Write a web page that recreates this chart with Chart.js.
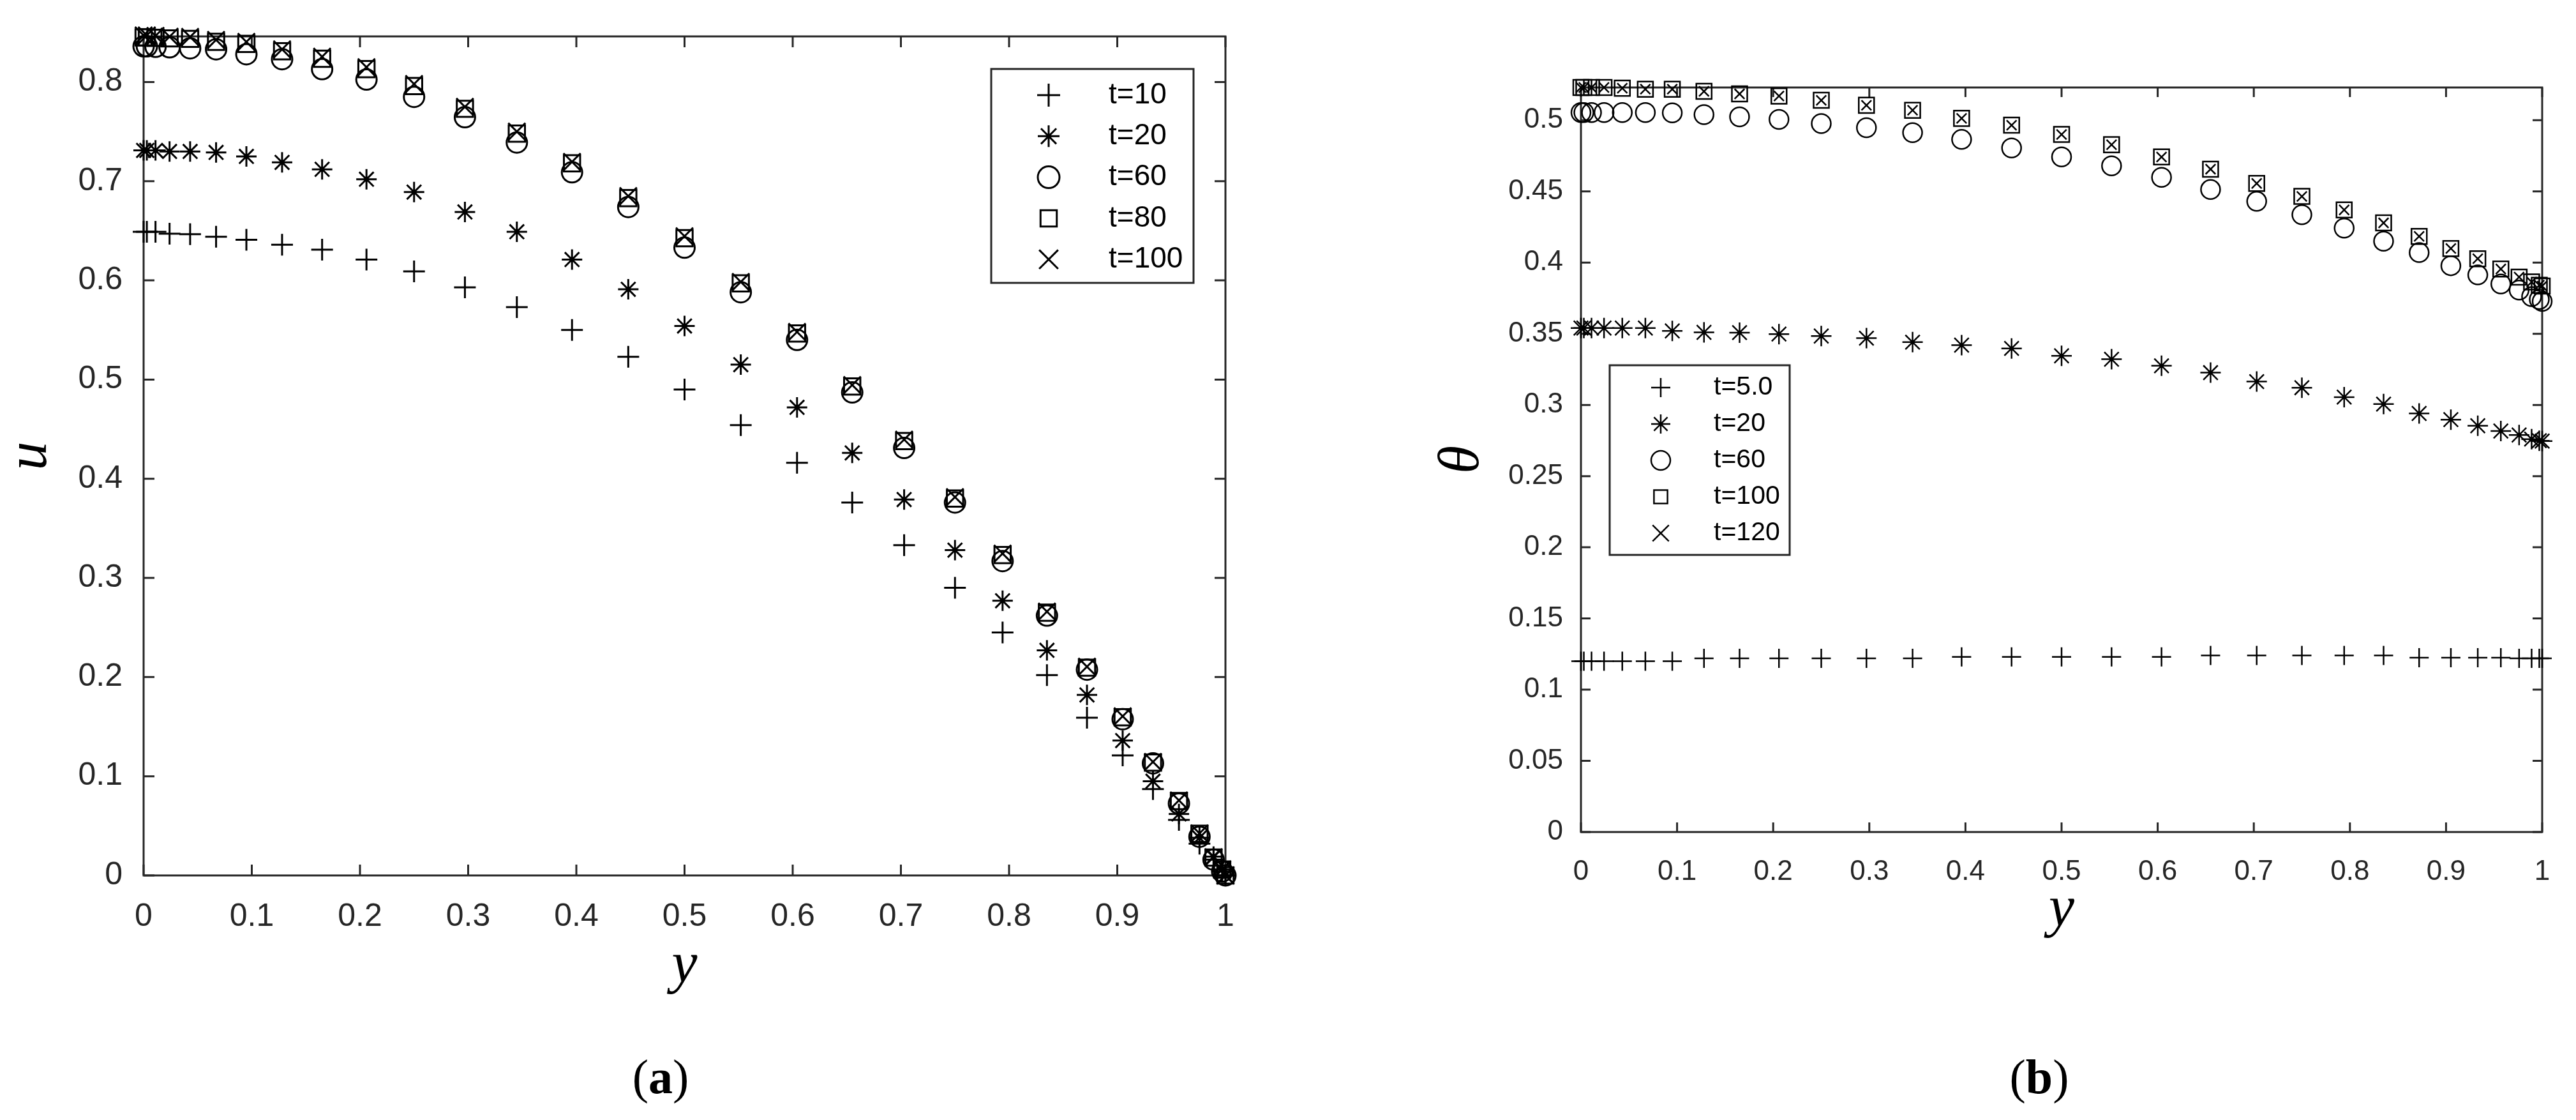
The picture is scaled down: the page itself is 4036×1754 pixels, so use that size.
<!DOCTYPE html>
<html>
<head>
<meta charset="utf-8">
<title>u and theta profiles</title>
<script src="https://cdn.jsdelivr.net/npm/chart.js@4.4.1/dist/chart.umd.min.js"></script>
<style>
  html, body { margin: 0; padding: 0; background: #fff; }
  body { width: 4036px; height: 1754px; position: relative; overflow: hidden; }
  .panel { position: absolute; top: 0; width: 2000px; height: 1754px; }
  .caption {
    position: absolute;
    font-family: 'Liberation Serif', 'DejaVu Serif', serif;
    font-size: 76px;
    color: #000;
    transform: translate(-50%, -50%);
    white-space: nowrap;
  }
</style>
</head>
<body>
<div class="panel" style="left:0"><canvas id="chartU" width="2000" height="1754"></canvas></div>
<div class="panel" style="left:2036px"><canvas id="chartTheta" width="2000" height="1754"></canvas></div>
<div class="caption" style="left:1035px; top:1686px">(<b>a</b>)</div>
<div class="caption" style="left:3195px; top:1686px">(<b>b</b>)</div>
<script>
// grid points across the channel (same for every curve)
const yNodes = [0, 0.003, 0.011, 0.024, 0.043, 0.067, 0.095, 0.128, 0.165, 0.206, 0.25, 0.297, 0.345, 0.396, 0.448,
  0.5, 0.552, 0.604, 0.655, 0.703, 0.75, 0.794, 0.835, 0.872, 0.905, 0.933, 0.957, 0.976, 0.989, 0.997, 1];

// (a) velocity u
const uT10 = [0.649, 0.649, 0.649, 0.647, 0.6465, 0.644, 0.641, 0.636, 0.631, 0.621, 0.609, 0.593, 0.573, 0.550, 0.523,
  0.490, 0.454, 0.416, 0.376, 0.333, 0.290, 0.245, 0.202, 0.159, 0.121, 0.087, 0.056, 0.032, 0.016, 0.004, 0];
const uT20 = [0.731, 0.731, 0.731, 0.730, 0.730, 0.729, 0.725, 0.719, 0.712, 0.702, 0.689, 0.669, 0.649, 0.621, 0.591,
  0.554, 0.515, 0.472, 0.426, 0.379, 0.328, 0.277, 0.227, 0.182, 0.136, 0.095, 0.062, 0.038, 0.019, 0.006, 0];
const uT60 = [0.836, 0.836, 0.8355, 0.835, 0.834, 0.833, 0.828, 0.823, 0.813, 0.8025, 0.785, 0.7645, 0.739, 0.709, 0.674,
  0.633, 0.588, 0.540, 0.487, 0.431, 0.376, 0.317, 0.262, 0.2075, 0.1575, 0.113, 0.0725, 0.039, 0.016, 0.004, 0];
const uT80 = [0.845, 0.845, 0.8445, 0.844, 0.8435, 0.8405, 0.8385, 0.831, 0.8235, 0.813, 0.796, 0.773, 0.748, 0.718, 0.683,
  0.6425, 0.597, 0.5465, 0.493, 0.438, 0.380, 0.323, 0.265, 0.2095, 0.1595, 0.1138, 0.075, 0.042, 0.018, 0.006, 0];
const uT100 = [0.847, 0.847, 0.8465, 0.8457, 0.8455, 0.8425, 0.8405, 0.833, 0.8255, 0.815, 0.798, 0.775, 0.750, 0.7195, 0.685,
  0.6445, 0.5985, 0.548, 0.4945, 0.4395, 0.3815, 0.3245, 0.266, 0.2105, 0.1605, 0.1145, 0.0757, 0.0424, 0.0184, 0.006, 0];

// (b) temperature theta
const thT5 = [0.120, 0.120, 0.120, 0.120, 0.120, 0.120, 0.120, 0.122, 0.122, 0.122, 0.122, 0.122, 0.122, 0.123, 0.123,
  0.123, 0.123, 0.123, 0.124, 0.124, 0.124, 0.124, 0.124, 0.1225, 0.1225, 0.1225, 0.1225, 0.122, 0.122, 0.122, 0.122];
const thT20 = [0.354, 0.354, 0.354, 0.354, 0.354, 0.354, 0.352, 0.351, 0.3508, 0.3498, 0.3484, 0.3469, 0.3441, 0.342, 0.3397,
  0.3345, 0.3321, 0.3275, 0.3227, 0.3164, 0.3121, 0.3055, 0.3006, 0.294, 0.2897, 0.2854, 0.2817, 0.2789, 0.276, 0.2749, 0.2746];
const thT60 = [0.5054, 0.5054, 0.5054, 0.5054, 0.5054, 0.5054, 0.5052, 0.5039, 0.5024, 0.5006, 0.4977, 0.4947, 0.4913, 0.4865, 0.4805,
  0.4742, 0.4679, 0.4599, 0.4513, 0.443, 0.4336, 0.4242, 0.415, 0.407, 0.3978, 0.3913, 0.385, 0.3807, 0.3761, 0.3741, 0.3727];
const thT100 = [0.523, 0.523, 0.523, 0.523, 0.5225, 0.5218, 0.5218, 0.5203, 0.5185, 0.517, 0.514, 0.5105, 0.507, 0.5013, 0.4965,
  0.490, 0.4828, 0.4742, 0.4656, 0.4556, 0.4465, 0.437, 0.4279, 0.4184, 0.4099, 0.4027, 0.3955, 0.3898, 0.3864, 0.3841, 0.3835];
const thT120 = [0.523, 0.523, 0.523, 0.523, 0.5225, 0.5218, 0.5218, 0.5203, 0.5185, 0.517, 0.514, 0.5105, 0.507, 0.5013, 0.4965,
  0.490, 0.4828, 0.4742, 0.4656, 0.4556, 0.4465, 0.437, 0.4279, 0.4184, 0.4099, 0.4027, 0.3955, 0.3898, 0.3864, 0.3841, 0.3835];

const uLabels = ['t=10', 't=20', 't=60', 't=80', 't=100'];
const thetaLabels = ['t=5.0', 't=20', 't=60', 't=100', 't=120'];

const yTicks = [0, 0.1, 0.2, 0.3, 0.4, 0.5, 0.6, 0.7, 0.8, 0.9, 1];
const uTicks = [0, 0.1, 0.2, 0.3, 0.4, 0.5, 0.6, 0.7, 0.8];
const thetaTicks = [0, 0.05, 0.1, 0.15, 0.2, 0.25, 0.3, 0.35, 0.4, 0.45, 0.5];

// matlab-ish markers: + * o square x
const markerStyles = ['cross', 'star', 'circle', 'rect', 'crossRot'];

const ink = '#000';
const axisInk = '#262626';
const sans = "'Liberation Sans', Arial, sans-serif";
const serif = "'Liberation Serif', 'DejaVu Serif', serif";

function toPoints(vals) {
  return yNodes.map((x, i) => ({ x: x, y: vals[i] }));
}

function makeDatasets(labels, series, radii, lw) {
  return labels.map((label, i) => ({
    label: label,
    data: toPoints(series[i]),
    pointStyle: markerStyles[i],
    pointRadius: radii[i],
    pointHoverRadius: radii[i],
    pointBorderWidth: lw,
    pointBorderColor: ink,
    pointBackgroundColor: 'rgba(0,0,0,0)',
    showLine: false,
    clip: false
  }));
}

// fallback in case helpers are not exposed
function markerFallback(ctx, style, r, x, y) {
  ctx.beginPath();
  const d = r * Math.SQRT1_2;
  if (style === 'circle') { ctx.arc(x, y, r, 0, Math.PI * 2); }
  else if (style === 'rect') { ctx.rect(x - d, y - d, 2 * d, 2 * d); }
  else {
    if (style === 'cross' || style === 'star') {
      ctx.moveTo(x - r, y); ctx.lineTo(x + r, y); ctx.moveTo(x, y - r); ctx.lineTo(x, y + r);
    }
    if (style === 'crossRot' || style === 'star') {
      ctx.moveTo(x - d, y - d); ctx.lineTo(x + d, y + d); ctx.moveTo(x - d, y + d); ctx.lineTo(x + d, y - d);
    }
  }
  ctx.stroke();
}

// box frame with inward ticks on all four sides, plus a boxed legend
const matlabAxes = {
  id: 'matlabAxes',
  beforeDatasetsDraw(chart, args, opts) {
    const { ctx, chartArea: a } = chart;
    const xs = chart.scales.x, ys = chart.scales.y;
    ctx.save();
    ctx.strokeStyle = axisInk;
    ctx.lineWidth = opts.lineWidth;
    ctx.strokeRect(a.left, a.top, a.right - a.left, a.bottom - a.top);
    ctx.beginPath();
    xs.ticks.forEach(t => {
      const px = xs.getPixelForValue(t.value);
      ctx.moveTo(px, a.bottom); ctx.lineTo(px, a.bottom - opts.tickLen);
      ctx.moveTo(px, a.top); ctx.lineTo(px, a.top + opts.tickLen);
    });
    ys.ticks.forEach(t => {
      const py = ys.getPixelForValue(t.value);
      ctx.moveTo(a.left, py); ctx.lineTo(a.left + opts.tickLen, py);
      ctx.moveTo(a.right, py); ctx.lineTo(a.right - opts.tickLen, py);
    });
    ctx.stroke();
    ctx.restore();
  },
  afterDraw(chart, args, opts) {
    const lg = opts.legend;
    const ctx = chart.ctx;
    const drawPoint = Chart.helpers && Chart.helpers.drawPoint;
    ctx.save();
    ctx.fillStyle = '#fff';
    ctx.fillRect(lg.left, lg.top, lg.width, lg.height);
    ctx.strokeStyle = axisInk;
    ctx.lineWidth = opts.lineWidth;
    ctx.strokeRect(lg.left, lg.top, lg.width, lg.height);
    ctx.font = lg.fontSize + 'px ' + sans;
    ctx.textBaseline = 'middle';
    ctx.textAlign = 'left';
    chart.data.datasets.forEach((ds, i) => {
      const cy = lg.firstRow + i * lg.rowGap;
      const r = lg.radii ? lg.radii[i] : ds.pointRadius;
      ctx.strokeStyle = ink;
      ctx.fillStyle = 'rgba(0,0,0,0)';
      ctx.lineWidth = ds.pointBorderWidth;
      if (drawPoint) {
        drawPoint(ctx, { pointStyle: ds.pointStyle, radius: r, rotation: 0, borderWidth: ds.pointBorderWidth }, lg.markerX, cy);
      } else {
        markerFallback(ctx, ds.pointStyle, r, lg.markerX, cy);
      }
      ctx.fillStyle = ink;
      ctx.fillText(ds.label, lg.textX, cy);
    });
    ctx.restore();
  }
};

function axisOptions(cfg) {
  return {
    type: 'linear',
    min: cfg.min,
    max: cfg.max,
    afterBuildTicks: s => { s.ticks = cfg.ticks.map(v => ({ value: v })); },
    afterFit: cfg.fit,
    grid: { display: false },
    border: { display: false },
    ticks: {
      padding: cfg.pad,
      color: axisInk,
      font: { family: sans, size: cfg.fontSize },
      autoSkip: false,
      maxRotation: 0,
      callback: v => String(v)
    },
    title: {
      display: true,
      text: cfg.title,
      color: ink,
      font: { family: serif, style: 'italic', size: 90, lineHeight: 1 },
      padding: cfg.titlePad
    }
  };
}

new Chart(document.getElementById('chartU'), {
  type: 'scatter',
  data: {
    datasets: makeDatasets(uLabels, [uT10, uT20, uT60, uT80, uT100], [17, 16, 16, 18, 19], 3)
  },
  options: {
    responsive: false,
    animation: false,
    devicePixelRatio: 1,
    events: [],
    layout: { padding: { top: 57, right: 80, bottom: 195, left: 0 } },
    scales: {
      x: axisOptions({ min: 0, max: 1, ticks: yTicks, pad: 27, fontSize: 50, title: 'y',
        titlePad: { top: 0, bottom: 0 }, fit: s => { s.height = 188; } }),
      y: axisOptions({ min: 0, max: 0.846, ticks: uTicks, pad: 25, fontSize: 50, title: 'u',
        titlePad: { top: 3, bottom: 0 }, fit: s => { s.width = 225; } })
    },
    plugins: {
      legend: { display: false },
      tooltip: { enabled: false },
      matlabAxes: {
        lineWidth: 3,
        tickLen: 17,
        legend: { left: 1553, top: 108, width: 317, height: 335, firstRow: 149, rowGap: 64.3,
          markerX: 1643, textX: 1737, fontSize: 46, radii: [18, 17, 17, 18, 21] }
      }
    }
  },
  plugins: [matlabAxes]
});

new Chart(document.getElementById('chartTheta'), {
  type: 'scatter',
  data: {
    datasets: makeDatasets(thetaLabels, [thT5, thT20, thT60, thT100, thT120], [15, 16, 15, 17, 11], 2.5)
  },
  options: {
    responsive: false,
    animation: false,
    devicePixelRatio: 1,
    events: [],
    layout: { padding: { top: 137, right: 53, bottom: 283, left: 0 } },
    scales: {
      x: axisOptions({ min: 0, max: 1, ticks: yTicks, pad: 28, fontSize: 44, title: 'y',
        titlePad: { top: 0, bottom: 0 }, fit: s => { s.height = 168; } }),
      y: axisOptions({ min: 0, max: 0.523, ticks: thetaTicks, pad: 20, fontSize: 44, title: 'θ',
        titlePad: { top: 211, bottom: 0 }, fit: s => { s.width = 441; } })
    },
    plugins: {
      legend: { display: false },
      tooltip: { enabled: false },
      matlabAxes: {
        lineWidth: 3,
        tickLen: 15,
        legend: { left: 486, top: 572, width: 282, height: 297, firstRow: 607, rowGap: 57,
          markerX: 566, textX: 649, fontSize: 41, radii: [15, 15, 15, 15, 18] }
      }
    }
  },
  plugins: [matlabAxes]
});
</script>
</body>
</html>
